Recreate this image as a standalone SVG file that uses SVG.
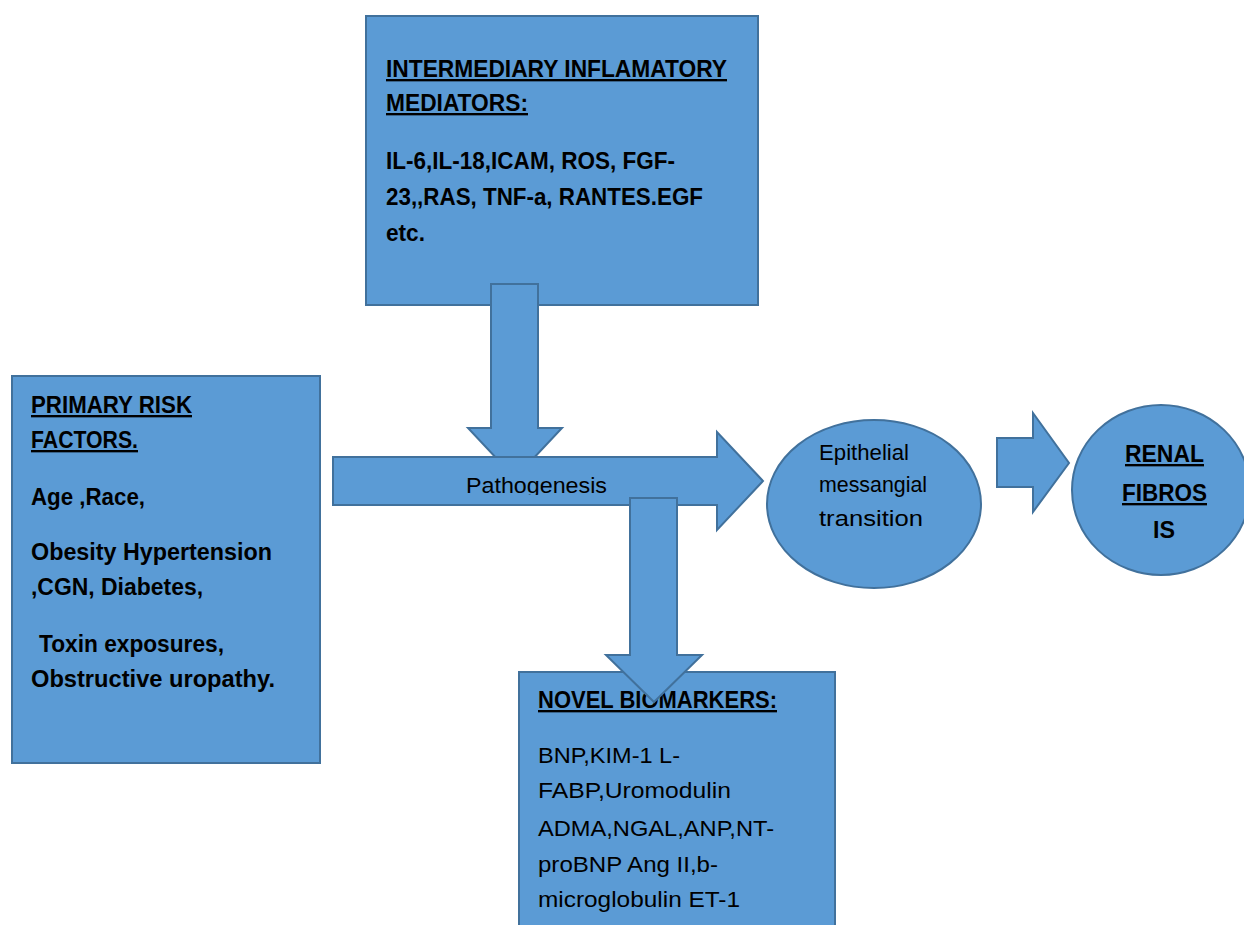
<svg xmlns="http://www.w3.org/2000/svg" width="1244" height="925" viewBox="0 0 1244 925">
<style>
.shape{fill:#5B9BD5;stroke:#41719C;stroke-width:2}
.b{font-family:"Liberation Sans",Arial,sans-serif;font-weight:bold;font-size:23.5px;fill:#000}
.n{font-family:"Liberation Sans",Arial,sans-serif;font-size:22.5px;fill:#000}
.u{text-decoration:underline}
</style>
<defs>
<clipPath id="pathoClip"><rect x="333" y="457" width="384" height="38"/></clipPath>
</defs>
<rect width="1244" height="925" fill="#fff"/>

<g id="node-mediators">
<rect class="shape" x="366" y="16" width="392" height="289"/>
<text class="b u" x="386" y="77" textLength="341" lengthAdjust="spacingAndGlyphs">INTERMEDIARY INFLAMATORY</text>
<text class="b u" x="386" y="111" textLength="142" lengthAdjust="spacingAndGlyphs">MEDIATORS:</text>
<text class="b" x="386" y="169" textLength="289" lengthAdjust="spacingAndGlyphs">IL-6,IL-18,ICAM, ROS, FGF-</text>
<text class="b" x="386" y="205" textLength="317" lengthAdjust="spacingAndGlyphs">23,,RAS, TNF-a,  RANTES.EGF</text>
<text class="b" x="386" y="241" textLength="39" lengthAdjust="spacingAndGlyphs">etc.</text>
</g>

<g id="node-risk">
<rect class="shape" x="12" y="376" width="308" height="387"/>
<text class="b u" x="31" y="413" textLength="161" lengthAdjust="spacingAndGlyphs">PRIMARY RISK</text>
<text class="b u" x="31" y="448" textLength="107" lengthAdjust="spacingAndGlyphs">FACTORS.</text>
<text class="b" x="31" y="505" textLength="114" lengthAdjust="spacingAndGlyphs">Age ,Race,</text>
<text class="b" x="31" y="560" textLength="241" lengthAdjust="spacingAndGlyphs">Obesity Hypertension</text>
<text class="b" x="31" y="595" textLength="172" lengthAdjust="spacingAndGlyphs">,CGN, Diabetes,</text>
<text class="b" x="39" y="652" textLength="185" lengthAdjust="spacingAndGlyphs">Toxin exposures,</text>
<text class="b" x="31" y="687" textLength="244" lengthAdjust="spacingAndGlyphs">Obstructive uropathy.</text>
</g>

<g id="node-biomarkers">
<rect class="shape" x="519" y="672" width="316" height="270"/>
<text class="b u" x="538" y="708" textLength="239" lengthAdjust="spacingAndGlyphs">NOVEL BIOMARKERS:</text>
<text class="n" x="538" y="763" textLength="142" lengthAdjust="spacingAndGlyphs">BNP,KIM-1 L-</text>
<text class="n" x="538" y="798" textLength="193" lengthAdjust="spacingAndGlyphs">FABP,Uromodulin</text>
<text class="n" x="538" y="836" textLength="236" lengthAdjust="spacingAndGlyphs">ADMA,NGAL,ANP,NT-</text>
<text class="n" x="538" y="872" textLength="180" lengthAdjust="spacingAndGlyphs">proBNP Ang II,b-</text>
<text class="n" x="538" y="907" textLength="202" lengthAdjust="spacingAndGlyphs">microglobulin ET-1</text>
</g>

<g id="connectors">
<polygon class="shape" points="491,284 538,284 538,428 562,428 515,478 468,428 491,428"/>
<polygon class="shape" points="333,457 717,457 717,432 763,481 717,530 717,505 333,505"/>
<polygon class="shape" points="630,498 677,498 677,655 702,655 654,702 606,655 630,655"/>
<polygon class="shape" points="997,438 1033,438 1033,413 1069,463 1033,512 1033,487 997,487"/>
<text class="n" x="466" y="493" font-size="21" textLength="141" lengthAdjust="spacingAndGlyphs" clip-path="url(#pathoClip)">Pathogenesis</text>
</g>

<g id="node-emt">
<ellipse class="shape" cx="874" cy="504" rx="107" ry="84"/>
<text class="n" x="819" y="460" font-size="20" textLength="90" lengthAdjust="spacingAndGlyphs">Epithelial</text>
<text class="n" x="819" y="492" font-size="20" textLength="108" lengthAdjust="spacingAndGlyphs">messangial</text>
<text class="n" x="819" y="526" font-size="22" textLength="104" lengthAdjust="spacingAndGlyphs">transition</text>
</g>

<g id="node-renal">
<ellipse class="shape" cx="1161" cy="490" rx="89" ry="85"/>
<text class="b u" x="1125" y="462" textLength="79" lengthAdjust="spacingAndGlyphs">RENAL</text>
<text class="b u" x="1122" y="501" textLength="85" lengthAdjust="spacingAndGlyphs">FIBROS</text>
<text class="b" x="1153" y="538" textLength="22" lengthAdjust="spacingAndGlyphs">IS</text>
</g>
</svg>
